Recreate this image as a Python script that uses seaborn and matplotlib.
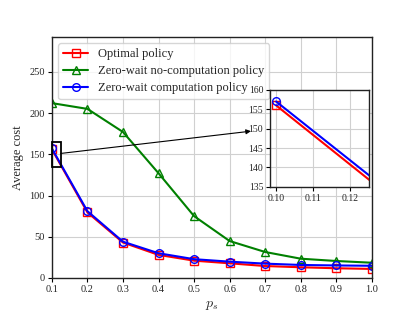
import matplotlib
matplotlib.use("Agg")
import matplotlib.pyplot as plt
import seaborn as sns
import pandas as pd
from matplotlib.patches import Rectangle

ps = [0.1, 0.2, 0.3, 0.4, 0.5, 0.6, 0.7, 0.8, 0.9, 1.0]
optimal = [156, 79.5, 43, 28, 21, 17.8, 14.5, 13, 11.8, 11]
zero_wait_nocomp = [212, 205, 177, 127, 75, 44.8, 31.5, 23.4, 20.6, 18.5]
zero_wait_comp = [157, 81, 44, 30, 22.8, 19.8, 17.4, 15.8, 15.2, 14.8]

labels = ["Optimal policy", "Zero-wait no-computation policy", "Zero-wait computation policy"]
colors = ["red", "green", "blue"]
markers = ["s", "^", "o"]
series = [optimal, zero_wait_nocomp, zero_wait_comp]

sns.set_style("whitegrid")
plt.rcParams["font.family"] = ["Liberation Serif", "DejaVu Serif"]
plt.rcParams["mathtext.fontset"] = "cm"

fig = plt.figure(figsize=(4.15, 3.12), dpi=100)
ax = fig.add_axes([0.125, 0.109, 0.771, 0.772])

df = pd.DataFrame({"ps": ps})
for lab, col, mk, vals in zip(labels, colors, markers, series):
    df[lab] = vals

def draw(a, ms):
    for lab, col, mk in zip(labels, colors, markers):
        sns.lineplot(data=df, x="ps", y=lab, ax=a, color=col, marker=mk, label=lab,
                     markerfacecolor="none", markeredgecolor=col, markeredgewidth=1.0,
                     markersize=ms, linewidth=1.5)

draw(ax, 5.5)
ax.set_xlim(0.1, 1.0)
ax.set_ylim(0, 292)
ax.set_xticks(ps)
ax.set_yticks([0, 50, 100, 150, 200, 250])
ax.set_xlabel("$p_s$", fontsize=10)
ax.set_ylabel("Average cost", fontsize=9)
ax.tick_params(axis="both", labelsize=7.5, length=3, width=0.8, color="black", direction="out", bottom=True, left=True, pad=2)
ax.grid(True, color="#d0d0d0", linewidth=0.8)
for s in ax.spines.values():
    s.set_color("#222222")
    s.set_linewidth(1.0)
leg = ax.legend(loc="upper left", fontsize=9, frameon=True, handlelength=2.0,
                borderpad=0.4, labelspacing=0.4)
leg.get_frame().set_edgecolor("#cccccc")
leg.get_frame().set_alpha(0.8)

ax.add_patch(Rectangle((0.1, 135), 0.025, 30, fill=False, edgecolor="black", linewidth=1.3, zorder=5, clip_on=False))
ax.annotate("", xy=(0.66, 178), xytext=(0.125, 151),
            arrowprops=dict(arrowstyle="-|>", color="black", lw=0.8, mutation_scale=7, shrinkA=0, shrinkB=0))

axin = fig.add_axes([0.651, 0.401, 0.238, 0.311])
draw(axin, 5.5)
axin.get_legend().remove()
axin.set_xlim(0.0984, 0.125)
axin.set_ylim(135, 160)
axin.set_xticks([0.10, 0.11, 0.12])
axin.set_xticklabels(["0.10", "0.11", "0.12"])
axin.set_yticks([135, 140, 145, 150, 155, 160])
axin.set_xlabel("")
axin.set_ylabel("")
axin.tick_params(axis="both", labelsize=7, length=3, width=0.8, color="black", direction="out", bottom=True, left=True, pad=2)
axin.grid(True, color="#d0d0d0", linewidth=0.8)
for s in axin.spines.values():
    s.set_color("#222222")
    s.set_linewidth(1.0)

fig.savefig("out.png", dpi=100)
